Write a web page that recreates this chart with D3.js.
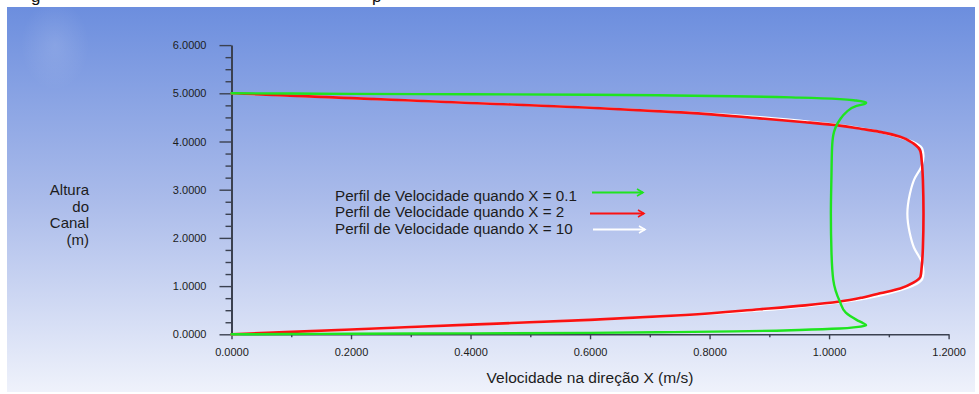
<!DOCTYPE html>
<html>
<head>
<meta charset="utf-8">
<script src="https://cdn.jsdelivr.net/npm/d3@7"></script>
<style>
  html, body { margin: 0; padding: 0; background: #ffffff; }
  svg { display: block; }
  text { font-family: "Liberation Sans", Arial, sans-serif; }
</style>
</head>
<body>
<svg id="chart" width="979" height="394"></svg>
<script>
// Velocity profiles across the channel height at three stations along X
const heightsX01 = [0, 0.005, 0.012, 0.02, 0.03, 0.045, 0.06, 0.09, 0.12, 0.15, 0.19, 0.23, 0.3, 0.45, 0.68, 1.13, 1.7, 2.5,
                    3.3, 3.87, 4.13, 4.45, 4.6, 4.74, 4.77, 4.81, 4.85, 4.88, 4.91, 4.94, 4.955, 4.97, 4.98, 4.988, 4.995, 5];
const velocityX01 = [0, 0.1, 0.2, 0.4, 0.6, 0.74, 0.84, 0.95, 1.018, 1.045, 1.062, 1.057, 1.046, 1.028, 1.018, 1.007, 1.004, 1.003,
                     1.004, 1.005, 1.007, 1.018, 1.028, 1.046, 1.057, 1.062, 1.045, 1.018, 0.95, 0.84, 0.74, 0.6, 0.4, 0.2, 0.1, 0];

const heightsX2 = [0, 0.1, 0.2, 0.3, 0.4, 0.52, 0.6, 0.68, 0.76, 0.85, 0.95, 1.07, 1.2, 1.4, 1.8, 2.5,
                   3.2, 3.6, 3.79, 3.96, 4.1, 4.2, 4.26, 4.33, 4.4, 4.48, 4.6, 4.7, 4.8, 4.9, 5];
const velocityX2 = [0, 0.2, 0.4, 0.6, 0.76, 0.884, 0.96, 1.018, 1.055, 1.085, 1.119, 1.141, 1.153, 1.155, 1.157, 1.158,
                    1.157, 1.155, 1.153, 1.141, 1.119, 1.085, 1.055, 1.018, 0.96, 0.884, 0.76, 0.6, 0.4, 0.2, 0];

const heightsX10 = [0, 0.1, 0.2, 0.3, 0.4, 0.5, 0.6, 0.68, 0.76, 0.85, 0.95, 1.05, 1.15, 1.3, 1.5, 1.8, 2.1, 2.5,
                    2.9, 3.2, 3.5, 3.7, 3.85, 3.95, 4.05, 4.15, 4.24, 4.32, 4.4, 4.5, 4.6, 4.7, 4.8, 4.9, 5];
const velocityX10 = [0, 0.2, 0.4, 0.605, 0.77, 0.89, 0.975, 1.03, 1.068, 1.1, 1.128, 1.147, 1.156, 1.158, 1.155, 1.142, 1.135, 1.131,
                     1.135, 1.142, 1.155, 1.158, 1.156, 1.147, 1.128, 1.1, 1.068, 1.03, 0.975, 0.89, 0.77, 0.605, 0.4, 0.2, 0];

const seriesLabels = ["Perfil de Velocidade quando X = 0.1",
                      "Perfil de Velocidade quando X = 2",
                      "Perfil de Velocidade quando X = 10"];
const seriesColors = ["#1fe41f", "#fa1212", "#ffffff"];

const xMajorTicks = [0, 0.2, 0.4, 0.6, 0.8, 1.0, 1.2];
const xMinorTicks = [0.1, 0.3, 0.5, 0.7, 0.9, 1.1];
const yMajorTicks = [0, 1, 2, 3, 4, 5, 6];
const yMinorTicks = [0.25, 0.5, 0.75, 1.25, 1.5, 1.75, 2.25, 2.5, 2.75, 3.25, 3.5, 3.75,
                     4.25, 4.5, 4.75, 5.25, 5.5, 5.75];

const xTitle = "Velocidade na direção X (m/s)";
const yTitleLines = ["Altura", "do", "Canal", "(m)"];

const svg = d3.select("#chart");
const W = 979, H = 394;

// Backdrop: blue-to-white vertical gradient panel
const defs = svg.append("defs");
const grad = defs.append("linearGradient").attr("id", "bg").attr("x1", 0).attr("y1", 0).attr("x2", 0).attr("y2", 1);
grad.append("stop").attr("offset", "0%").attr("stop-color", "#6c8ede");
grad.append("stop").attr("offset", "50%").attr("stop-color", "#aabbea");
grad.append("stop").attr("offset", "100%").attr("stop-color", "#eff2fb");
const glow = defs.append("radialGradient").attr("id", "glow");
glow.append("stop").attr("offset", "0%").attr("stop-color", "#ffffff").attr("stop-opacity", 0.12);
glow.append("stop").attr("offset", "100%").attr("stop-color", "#ffffff").attr("stop-opacity", 0);

svg.append("rect").attr("x", 0).attr("y", 0).attr("width", W).attr("height", H).attr("fill", "#ffffff");
svg.append("rect").attr("x", 7).attr("y", 7).attr("width", 968).attr("height", 385).attr("fill", "url(#bg)");
svg.append("ellipse").attr("cx", 55).attr("cy", 45).attr("rx", 34).attr("ry", 45).attr("fill", "url(#glow)");

// Descenders of the caption line above the panel
svg.append("text").attr("x", 31).attr("y", 2).attr("font-family", "Liberation Serif").attr("font-size", 17).attr("fill", "#111").text("g");
svg.append("text").attr("x", 372).attr("y", 2).attr("font-family", "Liberation Serif").attr("font-size", 17).attr("fill", "#111").text("p");

const x = d3.scaleLinear().domain([0, 1.2]).range([231.5, 948.6]);
const y = d3.scaleLinear().domain([0, 6]).range([334.3, 45.1]);

const axisColor = "#3b4150";

// X axis
const gx = svg.append("g").attr("transform", `translate(0,${y(0)})`);
gx.call(d3.axisBottom(x).tickValues(xMajorTicks).tickSize(5).tickSizeOuter(0).tickPadding(9).tickFormat(d3.format(".4f")));
const gxm = svg.append("g").attr("transform", `translate(0,${y(0)})`);
gxm.call(d3.axisBottom(x).tickValues(xMinorTicks).tickSize(3).tickFormat(""));
gxm.select(".domain").remove();

// Y axis
const gy = svg.append("g").attr("transform", `translate(${x(0)},0)`);
gy.call(d3.axisLeft(y).tickValues(yMajorTicks).tickSize(12).tickSizeOuter(0).tickPadding(13).tickFormat(d3.format(".4f")));
const gym = svg.append("g").attr("transform", `translate(${x(0)},0)`);
gym.call(d3.axisLeft(y).tickValues(yMinorTicks).tickSize(6).tickFormat(""));
gym.select(".domain").remove();

[gx, gxm, gy, gym].forEach(g => {
  g.selectAll("line").attr("stroke", axisColor).attr("stroke-width", 1.4);
  g.selectAll(".domain").attr("stroke", axisColor).attr("stroke-width", 1.6);
  g.selectAll("text").attr("fill", "#1c1c1c").attr("font-size", 11)
    .attr("font-family", "'Liberation Sans', Arial, sans-serif");
});
gy.select(".domain").attr("stroke-width", 2);

// Axis titles
svg.append("text").attr("x", 590).attr("y", 383).attr("text-anchor", "middle")
  .attr("font-size", 15.5).attr("fill", "#1c1c1c").text(xTitle);

const yt = svg.append("text").attr("text-anchor", "end").attr("font-size", 15).attr("fill", "#1c1c1c");
yTitleLines.forEach((t, i) => {
  yt.append("tspan").attr("x", 89).attr("y", 195 + i * 16.7).text(t);
});

// Profiles: the channel height runs along the vertical axis
const line = d3.line().x(d => x(d[0])).y(d => y(d[1])).curve(d3.curveMonotoneY);
const profiles = [
  { v: velocityX10, h: heightsX10, color: seriesColors[2], w: 2.2 },
  { v: velocityX2, h: heightsX2, color: seriesColors[1], w: 2.6 },
  { v: velocityX01, h: heightsX01, color: seriesColors[0], w: 2.4 }
];
profiles.forEach(p => {
  svg.append("path")
    .datum(p.v.map((v, i) => [v, p.h[i]]))
    .attr("fill", "none").attr("stroke", p.color).attr("stroke-width", p.w)
    .attr("stroke-linejoin", "round").attr("stroke-linecap", "round")
    .attr("d", line);
});

// Legend with arrow keys
const legendRows = [
  { text: seriesLabels[0], color: seriesColors[0], ty: 200.5, ay: 192.5, x1: 592, x2: 643 },
  { text: seriesLabels[1], color: seriesColors[1], ty: 217, ay: 213.5, x1: 590, x2: 644 },
  { text: seriesLabels[2], color: seriesColors[2], ty: 233.5, ay: 229.5, x1: 593, x2: 645 }
];
const lg = svg.append("g");
legendRows.forEach(r => {
  lg.append("text").attr("x", 335).attr("y", r.ty).attr("font-size", 15.2).attr("fill", "#1c1c1c").text(r.text);
  lg.append("line").attr("x1", r.x1).attr("x2", r.x2).attr("y1", r.ay).attr("y2", r.ay)
    .attr("stroke", r.color).attr("stroke-width", 2);
  lg.append("path").attr("d", `M${r.x2 - 6},${r.ay - 3.5} L${r.x2},${r.ay} L${r.x2 - 6},${r.ay + 3.5}`)
    .attr("fill", "none").attr("stroke", r.color).attr("stroke-width", 1.6);
});
</script>
</body>
</html>
